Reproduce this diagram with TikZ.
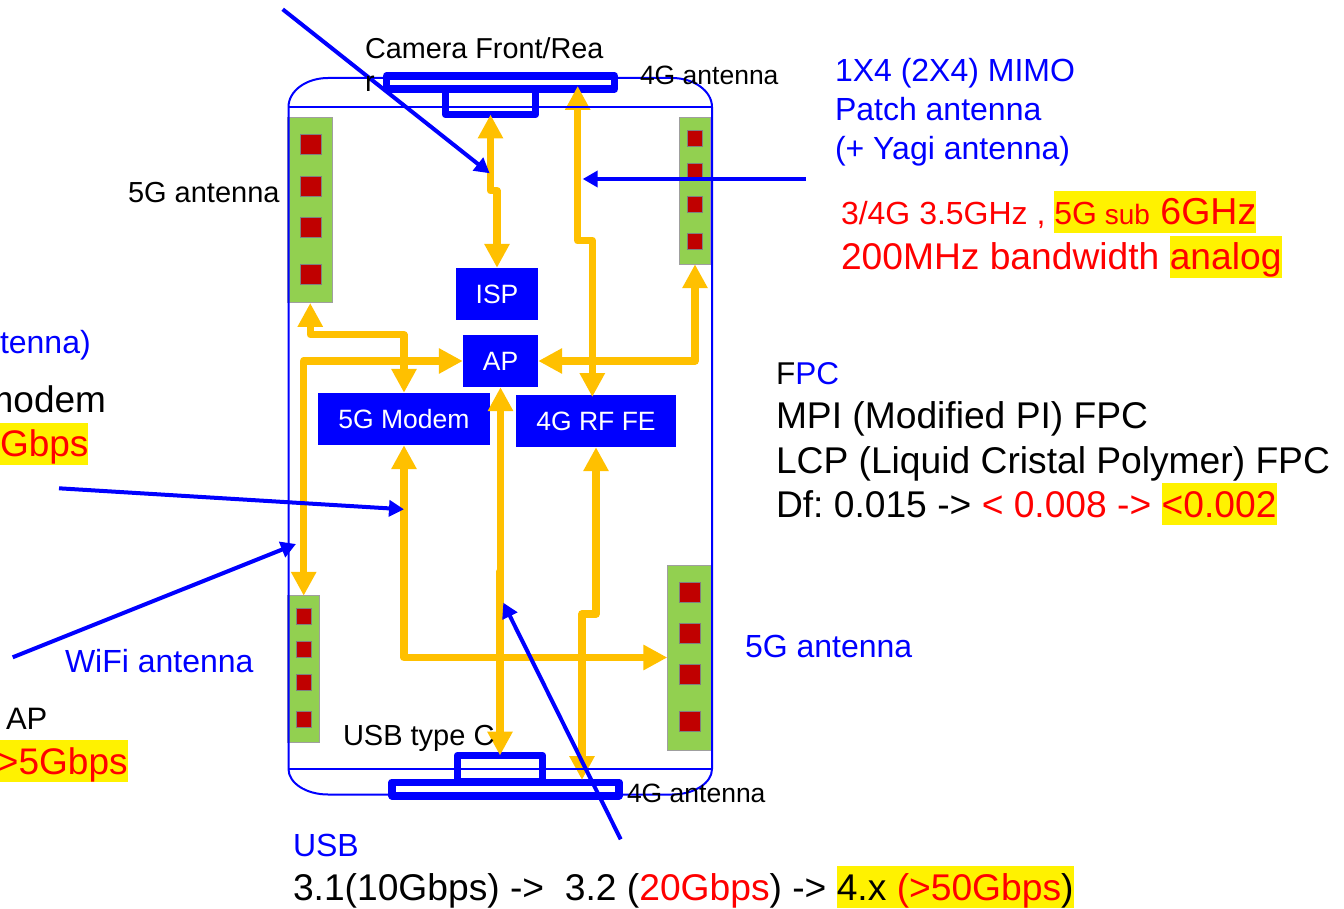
\documentclass[tikz,border=0pt]{standalone}
\usepackage{fontspec}
\setmainfont{Liberation Sans}
\usetikzlibrary{arrows.meta,positioning,calc}
\definecolor{busyellow}{HTML}{FFC000}
\definecolor{antgreen}{HTML}{92D050}
\definecolor{cellred}{HTML}{C00000}
\setlength{\fboxsep}{0pt}
\newcommand{\hlbox}[1]{\colorbox{yellow}{\rule[-8pt]{0pt}{42pt}#1}}
\newcommand{\sz}[1]{\fontsize{#1}{#1}\selectfont}
\tikzset{
    block/.style={fill=blue, text=white, inner sep=0pt, font=\sz{26.5}},
    bar/.style={draw=blue, line width=7.5pt, line join=round, inner sep=0pt, outer sep=0pt},
    antenna/.style={draw=gray!75, fill=antgreen, line width=1pt, inner sep=0pt, outer sep=0pt},
    cellbig/.style={draw=gray, fill=cellred, line width=1pt, inner sep=0pt, minimum width=21pt, minimum height=20pt},
    cellsmall/.style={draw=gray, fill=cellred, line width=1pt, inner sep=0pt, minimum width=15pt, minimum height=16pt},
    bus/.style={draw=busyellow, line width=7.5pt, line join=round, >={Triangle[length=24pt,width=24pt]}},
    pointer/.style={draw=blue, line width=4pt, >={Triangle[length=15pt,width=16pt]}},
    label/.style={anchor=base west, inner sep=0pt, outer sep=0pt},
}

\begin{document}
\begin{tikzpicture}[x=1pt,y=-1pt]
            \useasboundingbox (0,0) rectangle (1344,909);
            \clip (0,0) rectangle (1344,909);

            \node[bar, minimum width=228pt, minimum height=13pt] (camera) at (500.5,82.5) {};
            \node[bar, minimum width=90pt, minimum height=25pt] (camtab) at (490.5,102) {};
            \node[bar, minimum width=227pt, minimum height=13.5pt] (usbbar) at (505.5,789) {};
            \node[bar, minimum width=85pt, minimum height=26.5pt] (usbtab) at (500,768.75) {};

            \node[antenna, minimum width=45pt, minimum height=185pt] (ant5gtop) at (310.25,210.5) {};
            \node[cellbig] (ta1) at (310.5,144.5) {};
            \node[cellbig] (ta2) at (310.5,186.5) {};
            \node[cellbig] (ta3) at (310.5,227.5) {};
            \node[cellbig] (ta4) at (310.5,274.5) {};
            \node[antenna, minimum width=31.5pt, minimum height=146.5pt] (ant4gright) at (695,191) {};
            \node[cellsmall] (ra1) at (695,138.5) {};
            \node[cellsmall] (ra2) at (695,171.5) {};
            \node[cellsmall] (ra3) at (695,204.5) {};
            \node[cellsmall] (ra4) at (695,241.5) {};
            \node[antenna, minimum width=32pt, minimum height=146.5pt] (antwifi) at (303.7,669) {};
            \node[cellsmall] (wa1) at (304,616.7) {};
            \node[cellsmall] (wa2) at (304,649.7) {};
            \node[cellsmall] (wa3) at (304,682.3) {};
            \node[cellsmall] (wa4) at (304,719.3) {};
            \node[antenna, minimum width=44.5pt, minimum height=185pt] (ant5gbottom) at (689.6,657.5) {};
            \node[cellbig] (ba1) at (690,592) {};
            \node[cellbig] (ba2) at (690,633) {};
            \node[cellbig] (ba3) at (690,674.7) {};
            \node[cellbig] (ba4) at (690,721.3) {};

            \node[block, minimum width=82pt, minimum height=52pt] (isp) at (497,294) {ISP};
            \node[block, minimum width=75pt, minimum height=52pt] (ap) at (500.5,361) {AP};
            \node[block, minimum width=172pt, minimum height=52pt] (modem) at (404,419) {\raisebox{-1pt}{5G Modem}};
            \node[block, minimum width=160pt, minimum height=52pt] (rffe) at (596,421) {4G RF FE};

            \coordinate (anttop) at (577.7,86);
            \coordinate (rfnorth) at (592.3,397);
            \coordinate (antbottom) at (582,780);

            \draw[bus,<->] (camtab.south) -- (490.5,190.7) -- (497,190.7) -- (isp.north);
            \draw[bus,<->] (anttop) -- (577.7,240.7) -- (592.3,240.7) -- (rfnorth);
            \draw[bus,<->] (ant5gtop.south) -- (310.25,334.7) -- (404,334.7) -- (modem.north);
            \draw[bus,<->] (ap.west) -| (antwifi.north);
            \draw[bus,<->] (ap.east) -| (ant4gright.south);
            \draw[bus,<->] (modem.south) |- (ant5gbottom.west);
            \draw[bus,<->] (ap.south) -- (500.5,571.7) -- (500,571.7) -- (usbtab.north);
            \draw[bus,<->] (rffe.south) -- (596,614) -- (582,614) -- (antbottom);

            \draw[blue, line width=2pt] (288.5,107) -- (712,107);
            \draw[blue, line width=2pt] (288.5,769) -- (712,769);
            \draw[blue, line width=2pt] (288.5,769) -- (288.5,107) .. controls (288.5,91) and (306,78) .. (328,78) -- (672,78) .. controls (694,78) and (712,91) .. (712,107) -- (712,769) .. controls (712,783) and (694,794.5) .. (672,794.5) -- (328,794.5) .. controls (306,794.5) and (288.5,783) .. (288.5,769);

            \coordinate (camfrom) at (282.7,9.3);
            \coordinate (camto) at (489.7,173.3);
            \coordinate (patchfrom) at (806,179);
            \coordinate (patchto) at (582.7,179);
            \coordinate (fpcfrom) at (59,488.3);
            \coordinate (fpcto) at (404,509.3);
            \coordinate (wififrom) at (12.7,657.3);
            \coordinate (wifito) at (296,544);
            \coordinate (usbfrom) at (620.7,839.3);
            \coordinate (usbto) at (503.3,602.7);
            \draw[pointer,->] (camfrom) -- (camto);
            \draw[pointer,->] (patchfrom) -- (patchto);
            \draw[pointer,->] (fpcfrom) -- (fpcto);
            \draw[pointer,->] (wififrom) -- (wifito);
            \draw[pointer,->] (usbfrom) -- (usbto);

            \node[label, font=\sz{28.8}] (camlabel) at (365,59) {Camera Front/Rea};
            \node[label, font=\sz{28.8}] (camlabelb) at (365,92) {r};
            \node[label, font=\sz{26.5}] (ant4gtoplabel) at (640,85) {4G antenna};
            \node[label, font=\sz{26.5}] (ant4gbotlabel) at (627,802) {4G antenna};
            \node[label, font=\sz{29}] (ant5gtoplabel) at (128,203) {5G antenna};
            \node[label, font=\sz{29}] (usbclabel) at (343,745) {USB type C};
            \node[label, font=\sz{32}, text=blue] (mimolabel) at (835,82) {1X4 (2X4) MIMO};
            \node[label, font=\sz{32}, text=blue] (patchlabel) at (835,121) {Patch antenna};
            \node[label, font=\sz{32}, text=blue] (yagilabel) at (835,160) {(+ Yagi antenna)};
            \node[label, font=\sz{32}, text=red] (bandlabel) at (841,225) {3/4G 3.5GHz , \hlbox{5G\sz{28} sub\sz{37.5} 6GHz}};
            \node[label, font=\sz{37.2}, text=red] (widthlabel) at (841,270) {200MHz bandwidth \hlbox{analog}};
            \node[label, font=\sz{32}, text=blue] (tennalabel) at (0,353.5) {tenna)};
            \node[label, font=\sz{37}, anchor=base east] (modemlabel) at (106,412) {modem};
            \node[label, font=\sz{37}, text=red] (gbpslabel) at (0,456.5) {\hlbox{Gbps}};
            \node[label, font=\sz{32}, text=blue] (wifilabel) at (65,672) {WiFi antenna};
            \node[label, font=\sz{31}] (aplabel) at (6,729) {AP};
            \node[label, font=\sz{37}, text=red] (apgbps) at (-3,774) {\hlbox{>5Gbps}};
            \node[label, font=\sz{32}, text=blue] (ant5gbotlabel) at (745,657) {5G antenna};
            \node[label, font=\sz{31.5}] (fpclabel) at (776,384) {F\textcolor{blue}{PC}};
            \node[label, font=\sz{37.2}] (mpilabel) at (776,428) {MPI (Modified PI) FPC};
            \node[label, font=\sz{37.2}] (lcplabel) at (776,473) {LCP (Liquid Cristal Polymer) FPC};
            \node[label, font=\sz{37.2}] (dflabel) at (776,517) {Df:\ 0.015 -> \textcolor{red}{< 0.008 -> \hlbox{<0.002}}};
            \node[label, font=\sz{32}, text=blue] (usblabel) at (293,856) {USB};
            \node[label, font=\sz{37.2}] (usbspeed) at (293,900) {3.1(10Gbps) ->\ \ 3.2 (\textcolor{red}{20Gbps}) -> \hlbox{4.x \textcolor{red}{(>50Gbps})}};
\end{tikzpicture}
\end{document}
